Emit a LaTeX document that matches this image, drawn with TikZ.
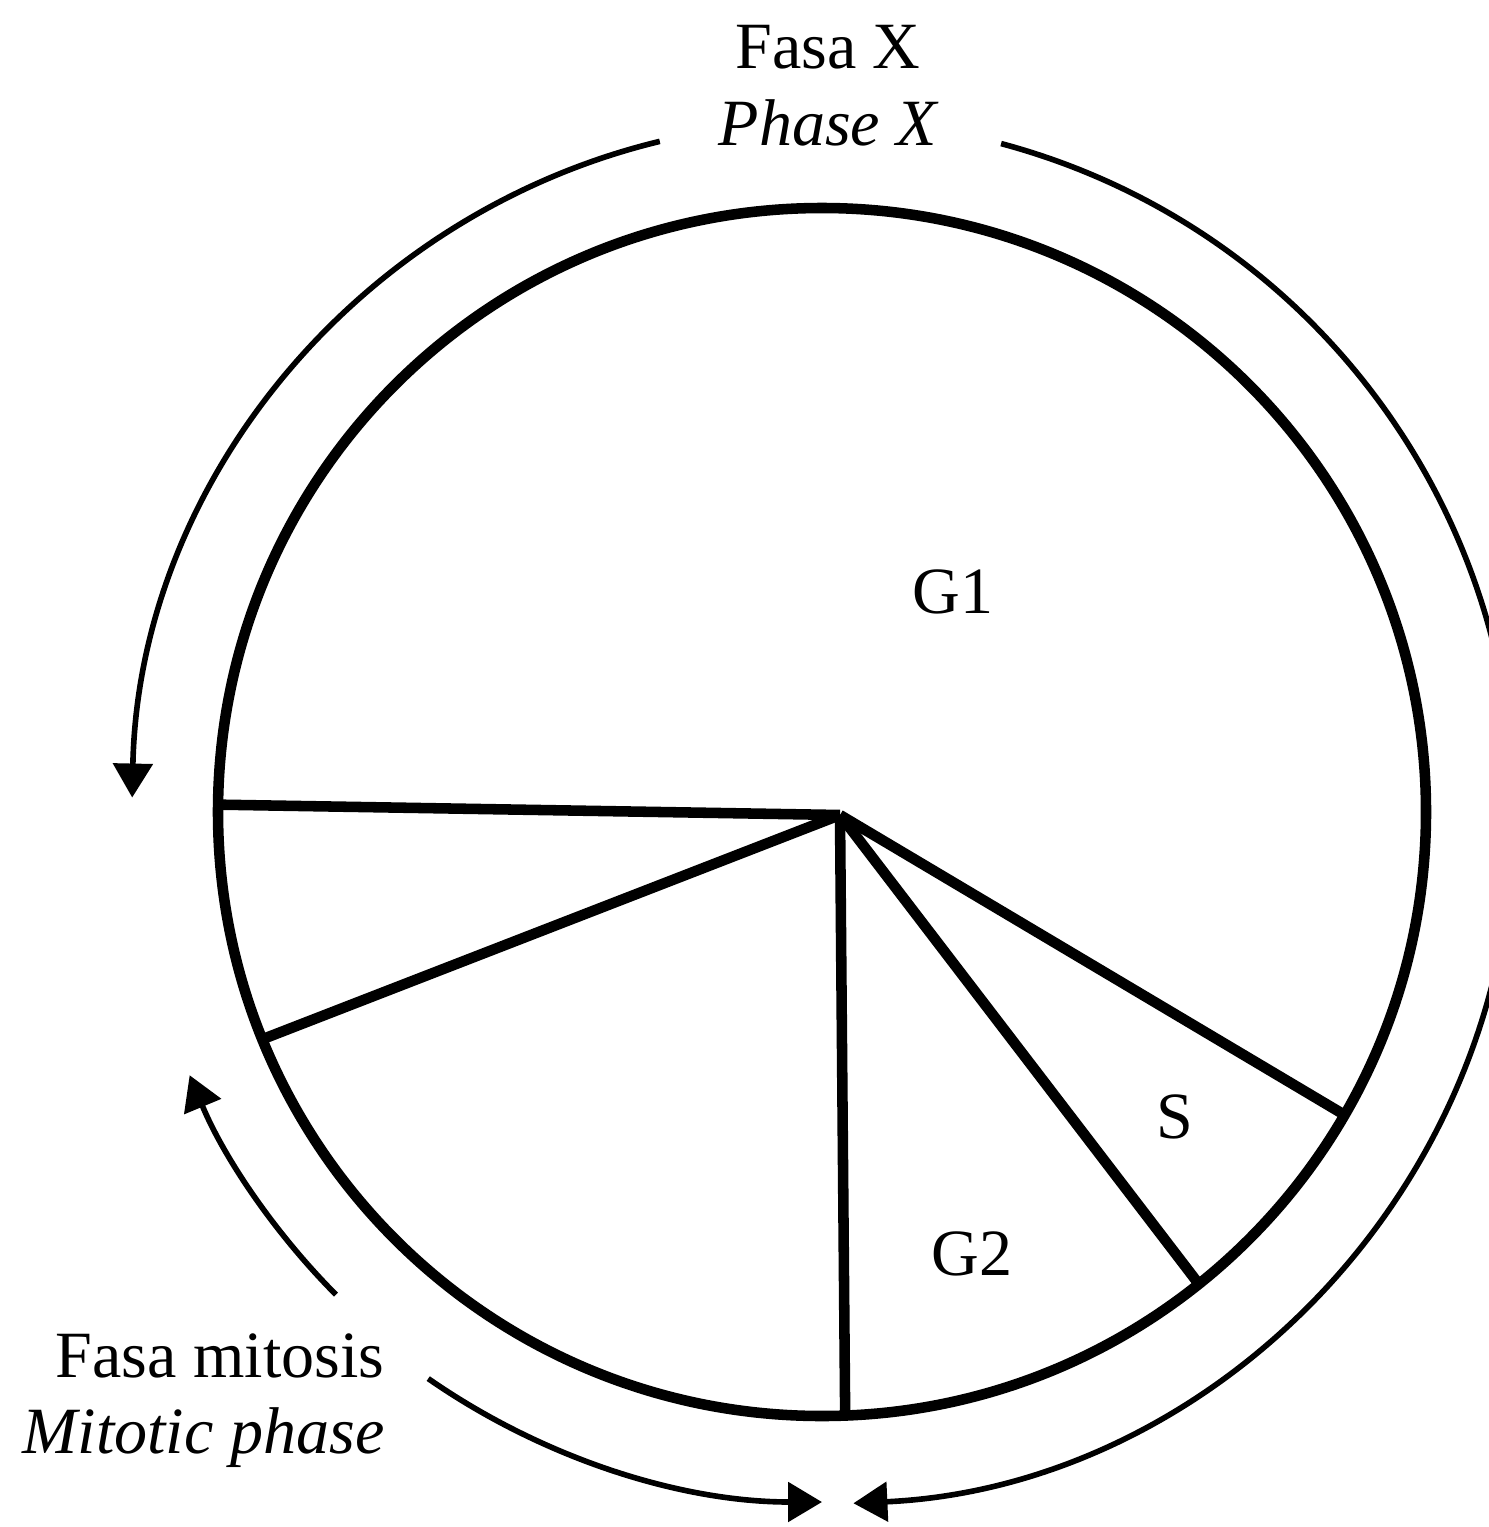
\documentclass[tikz,border=0pt]{standalone}
\usepackage{fontspec}
\setmainfont{Liberation Serif}
\usetikzlibrary{arrows.meta, calc}

\begin{document}
\begin{tikzpicture}[
    wheel/.style={draw=black, line width=3pt},
    spoke/.style={draw=black, line width=3pt},
    cyclearrow/.style={-{Triangle[length=3.4mm, width=3.9mm]}, line width=1.6pt},
    phase/.style={font=\fontsize{18.8}{22}\selectfont, inner sep=0pt},
    phase_en/.style={font=\fontsize{18.8}{22}\selectfont\itshape, inner sep=0pt},
    stage/.style={font=\fontsize{18.8}{22}\selectfont, inner sep=0pt}
]
\useasboundingbox (0,0) rectangle (14.88,-15.27);

% Cell cycle wheel
\coordinate (centre) at (8.22,-8.12);
\coordinate (hub) at (8.40,-8.15);
\draw[wheel] (centre) circle (6.04);

\coordinate (s1) at ($(centre)+(179.3:6.04)$);
\coordinate (s2) at ($(centre)+(202.1:6.04)$);
\coordinate (s3) at ($(centre)+(272.2:6.04)$);
\coordinate (s4) at ($(centre)+(308.6:6.04)$);
\coordinate (s5) at ($(centre)+(329.9:6.04)$);

\draw[spoke] (hub) -- (s1);
\draw[spoke] (hub) -- (s2);
\draw[spoke] (hub) -- (s3);
\draw[spoke] (hub) -- (s4);
\draw[spoke] (hub) -- (s5);

% Stages
\node[stage, anchor=base] (g1) at (9.53,-6.13) {G1};
\node[stage, anchor=base] (s) at (11.75,-11.38) {S};
\node[stage, anchor=base] (g2) at (9.72,-12.75) {G2};

% Phase X: outer arrows
\node[phase, anchor=base] (fasax) at (8.28,-0.68) {Fasa X};
\node[phase_en, anchor=base] (phasex) at (8.28,-1.45) {Phase X};

\coordinate (xright) at ($(centre)+(75:6.92)$);
\coordinate (xleft) at ($(centre)+(103.6:6.9)$);
\draw[cyclearrow] (xright) arc[start angle=75, end angle=-87.4, radius=6.92];
\draw[cyclearrow] (xleft) arc[start angle=103.6, end angle=178.8, radius=6.9];

% Mitotic phase: outer arrows
\node[phase, anchor=base east] (fasam) at (3.85,-13.77) {Fasa mitosis};
\node[phase_en, anchor=base east] (phasem) at (3.85,-14.53) {Mitotic phase};

\coordinate (mup) at ($(centre)+(224.8:6.85)$);
\coordinate (mdown) at ($(centre)+(235.2:6.9)$);
\draw[cyclearrow] (mup) arc[start angle=224.8, end angle=202.6, radius=6.85];
\draw[cyclearrow] (mdown) arc[start angle=235.2, end angle=270, radius=6.9];

\end{tikzpicture}
\end{document}
